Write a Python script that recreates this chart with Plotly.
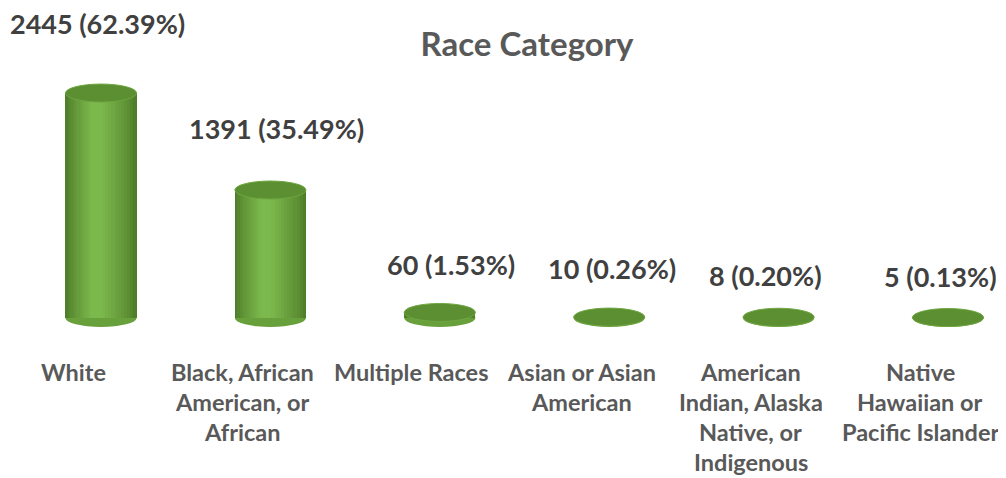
import plotly.graph_objects as go

CATEGORIES = ["White", "Black, African<br>American, or<br>African", "Multiple Races",
              "Asian or Asian<br>American", "American<br>Indian, Alaska<br>Native, or<br>Indigenous",
              "Native<br>Hawaiian or<br>Pacific Islander"]
VALUES = [2445, 1391, 60, 10, 8, 5]
PERCENTS = ["62.39%", "35.49%", "1.53%", "0.26%", "0.20%", "0.13%"]
TITLE = "Race Category"

# style / layout constants (page has an 8px body margin)
PAGE_OFF = 8
W, H = 1006 - PAGE_OFF, 478 - PAGE_OFF
X0_PX, STEP_PX = 101 - PAGE_OFF, 169.4   # pixel of first category centre, spacing
Y0_PX, PX_PER_UNIT = 318 - PAGE_OFF, 0.092  # baseline pixel, vertical scale
BAR_W = 0.42                      # cylinder width (category units)
ELL_PX = 18                       # ellipse height in pixels
LABEL_DY = [-70, -62, -48, -49, -42, -41]
LABEL_DX = [-4, 6, 11, 3, -13, -8]
FONT = "Lato"

units_per_px = 1 / PX_PER_UNIT
y_top = Y0_PX * units_per_px
y_bot = -(H - Y0_PX) * units_per_px
x_lo = -X0_PX / STEP_PX
x_hi = (W - X0_PX) / STEP_PX
ell_h = ELL_PX * units_per_px

xs = list(range(len(CATEGORIES)))

def mix(c1, c2, t):
    return "rgb(%d,%d,%d)" % tuple(round(a + (b - a) * t) for a, b in zip(c1, c2))

dark = (80, 126, 42)
light = (124, 185, 76)

fig = go.Figure()
N = 12
for k in range(N):
    t = k / (N - 1)
    f = 1 - 0.85 * t
    w = BAR_W * f
    shift = -0.06 * BAR_W * t
    fig.add_trace(go.Bar(
        x=xs, y=VALUES, width=w, offset=-w / 2 + shift,
        marker=dict(color=mix(dark, light, t ** 0.8), line=dict(width=0)),
        hoverinfo="skip", showlegend=False))

shapes = []
for i, v in zip(xs, VALUES):
    shapes.append(dict(type="circle", xref="x", yref="y", layer="below",
                       x0=i - BAR_W / 2, x1=i + BAR_W / 2,
                       y0=-ell_h / 2, y1=ell_h / 2,
                       fillcolor="rgb(104,160,60)", line=dict(width=0)))
    shapes.append(dict(type="circle", xref="x", yref="y", layer="above",
                       x0=i - BAR_W / 2, x1=i + BAR_W / 2,
                       y0=v - ell_h / 2, y1=v + ell_h / 2,
                       fillcolor="rgb(92,142,50)", line=dict(color="rgb(110,166,64)", width=1)))

annotations = []
for i, v, p, dx, dy in zip(xs, VALUES, PERCENTS, LABEL_DX, LABEL_DY):
    annotations.append(dict(x=i, y=v, xref="x", yref="y", text=f"<b>{v} ({p})</b>",
                            showarrow=False, xshift=dx, yshift=-dy,
                            font=dict(family=FONT, size=27, color="#404040")))
for i, cat in zip(xs, CATEGORIES):
    for j, line in enumerate(cat.split("<br>")):
        annotations.append(dict(x=i, y=1 - (372 - PAGE_OFF + 30 * j) / H, xref="x", yref="paper",
                                text=f"<b>{line}</b>", showarrow=False, xshift=-28,
                                yanchor="middle",
                                font=dict(family=FONT, size=23.5, color="#595959")))

fig.update_layout(
    width=W, height=H, margin=dict(l=0, r=0, t=0, b=0),
    barmode="overlay", bargap=0,
    paper_bgcolor="white", plot_bgcolor="white",
    title=dict(text=f"<b>{TITLE}</b>", x=(527 - PAGE_OFF) / W, y=1 - (44 - PAGE_OFF) / H,
               xanchor="center", yanchor="middle",
               font=dict(family=FONT, size=33, color="#595959")),
    xaxis=dict(range=[x_lo, x_hi], visible=False),
    yaxis=dict(range=[y_bot, y_top], visible=False),
    shapes=shapes, annotations=annotations,
)

fig.write_html("out.html")
